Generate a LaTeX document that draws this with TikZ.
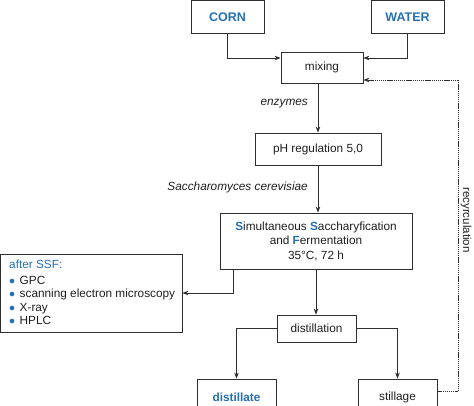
\documentclass[tikz,border=0pt]{standalone}
\usepackage{fontspec}
\setmainfont{Liberation Sans}
\usetikzlibrary{arrows.meta,calc}
\definecolor{sblue}{HTML}{2470B0}
\definecolor{lineg}{HTML}{2E2E2E}
\begin{document}
\begin{tikzpicture}[x=1pt,y=-1pt,
  box/.style={draw=lineg,line width=0.8pt,inner sep=0pt,align=center,text=black!88,
    font=\fontsize{11.8}{14.5}\selectfont},
  lbl/.style={font=\fontsize{11.8}{14}\selectfont\itshape,text=black!88,inner sep=0pt},
  arr/.style={-{Stealth[length=6pt,width=4.5pt]},line width=0.8pt,draw=lineg},
  recy/.style={line width=0.9pt,draw=lineg,dash pattern=on 1.2pt off 0.7pt}]
\useasboundingbox (0,0) rectangle (474,406);
% boxes
\node[box,minimum width=73pt,minimum height=32.5pt,font=\fontsize{12.5}{14}\selectfont] (corn) at (227.5,16.75) {\textbf{\textcolor{sblue}{CORN}}};
\node[box,minimum width=73pt,minimum height=32.5pt,font=\fontsize{12.5}{14}\selectfont] (water) at (407.5,16.75) {\textbf{\textcolor{sblue}{WATER}}};
\node[box,minimum width=82pt,minimum height=31pt] (mixing) at (322,67.5) {mixing};
\node[box,minimum width=126pt,minimum height=32pt] (ph) at (318,149) {pH regulation 5,0};
\node[box,minimum width=192pt,minimum height=56pt] (ssf) at (316,241)
  {\textbf{\textcolor{sblue}{S}}imultaneous \textbf{\textcolor{sblue}{S}}accharyfication\\
   and \textbf{\textcolor{sblue}{F}}ermentation\\35\textdegree C, 72 h};
\node[box,minimum width=181.5pt,minimum height=78pt] (after) at (91.25,293) {};
\node[anchor=north west,inner sep=0pt,align=left,text=black!88,
  font=\fontsize{11.8}{13.3}\selectfont] (list) at (9,260)
  {\textcolor{sblue}{after SSF:}\\[2.6pt]
   \textcolor{sblue}{$\bullet$}\hspace{4.5pt}GPC\\
   \textcolor{sblue}{$\bullet$}\hspace{4.5pt}scanning electron microscopy\\
   \textcolor{sblue}{$\bullet$}\hspace{4.5pt}X-ray\\
   \textcolor{sblue}{$\bullet$}\hspace{4.5pt}HPLC};
\node[box,minimum width=79pt,minimum height=27pt] (dist) at (316.5,328.5) {distillation};
\node[box,minimum width=79pt,minimum height=36pt] (distillate) at (236.5,397) {\textbf{\textcolor{sblue}{distillate}}};
\node[box,minimum width=79pt,minimum height=36pt] (stillage) at (397.5,397) {stillage};
% labels
\node[lbl,anchor=east] (enz) at (308,104) {enzymes};
\node[lbl,anchor=east] (sacc) at (308,187) {Saccharomyces cerevisiae};
\node[inner sep=0pt,rotate=-90,text=black!88,font=\fontsize{11.5}{13}\selectfont] (rec) at (466,220) {recyrculation};
% connectors
\draw[arr] (corn.south) |- ([yshift=9.5pt]mixing.west);
\draw[arr] (water.south) |- ([yshift=9.5pt]mixing.east);
\draw[arr] (mixing.south -| ph.north) -- (ph.north);
\draw[arr] (ph.south) -- (ph.south |- ssf.north);
\coordinate (ssfout) at (233,269);
\draw[arr] (ssfout) |- (after.east);
\draw[arr] (ssf.south) -- (ssf.south |- dist.north);
\draw[arr] (dist.west) -| (distillate.north);
\draw[arr] (dist.east) -| (stillage.north);
\coordinate (rc) at (458,391);
\draw[recy] (stillage.east |- rc) -- (rc) -- (458,80) coordinate (rc2);
\draw[recy,-{Stealth[length=6pt,width=4.5pt]}] (rc2) -- ([yshift=-12.5pt]mixing.east);
\end{tikzpicture}
\end{document}
